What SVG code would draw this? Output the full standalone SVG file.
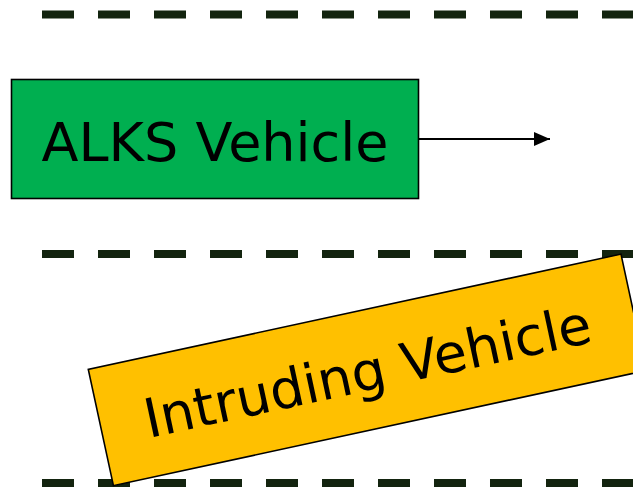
<svg xmlns="http://www.w3.org/2000/svg" width="633" height="489" viewBox="0 0 633 489">
<style>
.lane{stroke:#13240f;stroke-width:8;stroke-dasharray:32 24;fill:none}
.box{stroke:#000;stroke-width:1.6}
.lbl{font-family:"DejaVu Sans","Verdana",sans-serif;font-size:54px;fill:#000;text-anchor:middle}
</style>
<defs>
<marker id="ah" markerWidth="16" markerHeight="14" refX="16" refY="7" orient="auto" markerUnits="userSpaceOnUse">
<path d="M0,0 L16,7 L0,14 Z" fill="#000"/>
</marker>
</defs>
<g id="lanes">
<line class="lane" x1="42" y1="14.5" x2="640" y2="14.5"/>
<line class="lane" x1="42" y1="254" x2="640" y2="254"/>
<line class="lane" x1="42" y1="483" x2="640" y2="483"/>
</g>
<g id="alks">
<rect class="box" x="11.5" y="79.5" width="407" height="119" fill="#00AF50"/>
<text class="lbl" x="215" y="160.5">ALKS Vehicle</text>
</g>
<g id="connectors">
<line x1="419" y1="139" x2="550" y2="139" stroke="#000" stroke-width="2" marker-end="url(#ah)"/>
</g>
<g id="intruding" transform="translate(367.2,369.9) rotate(-12.2)">
<rect class="box" x="-272.5" y="-59.5" width="545" height="119" fill="#FFC000"/>
<text class="lbl" x="0" y="20.5">Intruding Vehicle</text>
</g>
</svg>
